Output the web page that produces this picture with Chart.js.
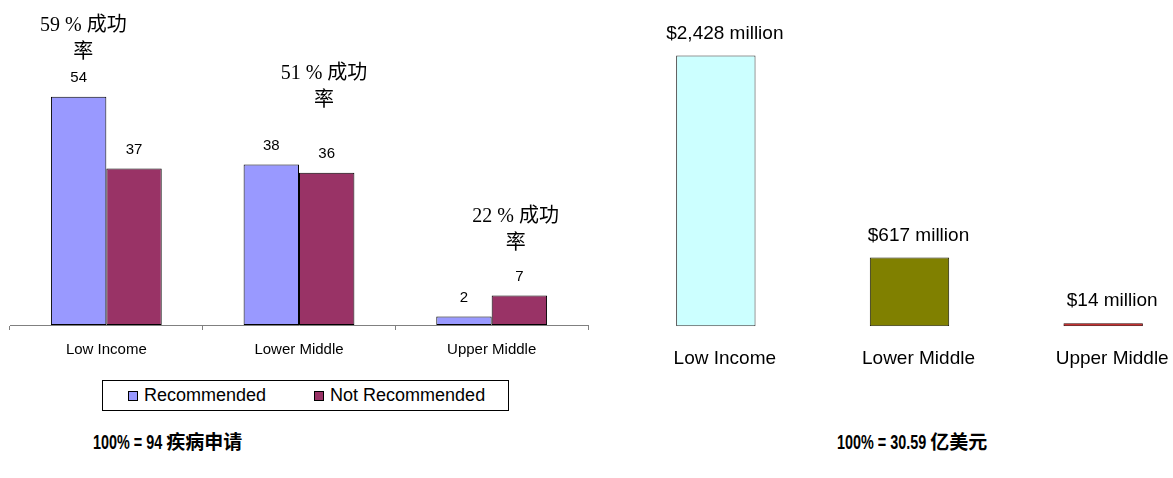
<!DOCTYPE html>
<html>
<head>
<meta charset="utf-8">
<script src="https://cdn.jsdelivr.net/npm/chart.js@4.4.1/dist/chart.umd.min.js"></script>
<style>
  html, body { margin: 0; padding: 0; background: #fff; width: 1173px; height: 478px; overflow: hidden; }
  body { position: relative; }
  #leftWrap { position: absolute; left: 0; top: 0; width: 610px; height: 370px; }
  #rightWrap { position: absolute; left: 600px; top: 0; width: 620px; height: 391px; }
  #legendBox {
    position: absolute; left: 102px; top: 380px; width: 405px; height: 29px;
    border: 1px solid #000; display: flex; align-items: center; box-sizing: content-box;
    font: 18px "Liberation Sans", Arial, sans-serif; color: #000;
  }
  #legendBox .item { display: flex; align-items: center; }
  #legendBox .item:first-child { margin-left: 25px; }
  #legendBox .item + .item { margin-left: 48px; }
  #legendBox .swatch { width: 8px; height: 8px; border: 1px solid #000; margin-right: 6px; }
  .caption {
    position: absolute; top: 427px; color: #000; white-space: nowrap;
    font: bold 20px "Liberation Sans", "Noto Sans CJK SC", sans-serif;
  }
  .caption .num { display: inline-block; transform: scaleX(0.72); transform-origin: 0 50%; white-space: pre; }
  .caption .cjk { display: inline-block; font-size: 19px; }
</style>
</head>
<body>
<div id="leftWrap"><canvas id="applications"></canvas></div>
<div id="rightWrap"><canvas id="funding"></canvas></div>
<div id="legendBox"></div>
<div class="caption" id="leftCaption" style="left:93px"></div>
<div class="caption" id="rightCaption" style="left:837px"></div>

<script>
// Disease applications by income group, and approved funding per group
const incomeGroups = ['Low Income', 'Lower Middle', 'Upper Middle'];
const recommended = [54, 38, 2];
const notRecommended = [37, 36, 7];
const fundingMillions = [2428, 617, 14];

const SANS = '"Liberation Sans", Arial, sans-serif';
const SERIF_CJK = '"Liberation Serif", "Noto Sans CJK SC", serif';

Chart.defaults.animation = false;
Chart.defaults.font.family = SANS;
Chart.defaults.color = '#000';

// value text above every bar
function valueLabels(font, gap, dx, format) {
  return {
    id: 'valueLabels',
    afterDatasetsDraw(chart) {
      const ctx = chart.ctx;
      ctx.save();
      ctx.font = font;
      ctx.fillStyle = '#000';
      ctx.textAlign = 'center';
      ctx.textBaseline = 'middle';
      chart.data.datasets.forEach((ds, di) => {
        chart.getDatasetMeta(di).data.forEach((bar, i) => {
          ctx.fillText(format(ds.data[i]), bar.x + dx, bar.y - gap);
        });
      });
      ctx.restore();
    }
  };
}

// success rate note over each group (recommended / all applications)
const rateNotes = {
  id: 'rateNotes',
  afterDatasetsDraw(chart) {
    const ctx = chart.ctx;
    const x = chart.scales.x;
    const shift = [-23, 25, 24];
    const top = [26, 74, 217];
    ctx.save();
    ctx.font = '20px ' + SERIF_CJK;
    ctx.fillStyle = '#000';
    ctx.textAlign = 'center';
    ctx.textBaseline = 'middle';
    incomeGroups.forEach((g, i) => {
      const rate = Math.round(recommended[i] / (recommended[i] + notRecommended[i]) * 100);
      const cx = x.getPixelForValue(i) + shift[i];
      ctx.fillText(rate + ' % 成功', cx, top[i]);
      ctx.fillText('率', cx, top[i] + 27);
    });
    ctx.restore();
  }
};

const applicationsChart = new Chart(document.getElementById('applications'), {
  type: 'bar',
  data: {
    labels: incomeGroups,
    datasets: [
      {
        label: 'Recommended',
        data: recommended,
        backgroundColor: '#9999FF',
        borderColor: '#000',
        borderWidth: 1,
        borderSkipped: false
      },
      {
        label: 'Not Recommended',
        data: notRecommended,
        backgroundColor: '#993366',
        borderColor: '#000',
        borderWidth: 1,
        borderSkipped: false
      }
    ]
  },
  options: {
    responsive: true,
    maintainAspectRatio: false,
    layout: { padding: { left: 10, right: 22, top: 8, bottom: 0 } },
    datasets: { bar: { categoryPercentage: 0.575, barPercentage: 1 } },
    plugins: {
      tooltip: { enabled: false },
      legend: { display: false }
    },
    scales: {
      x: {
        grid: { display: true, drawOnChartArea: false, drawTicks: true, tickLength: 5, color: '#808080', offset: true },
        border: { display: true, color: '#808080' },
        ticks: { font: { size: 15 }, padding: 11 }
      },
      y: { display: false, min: 0, max: 75 }
    }
  },
  plugins: [valueLabels('15px ' + SANS, 19, 0, v => String(v)), rateNotes]
});

// framed legend under the left chart, built from the chart's own legend items
const legendBox = document.getElementById('legendBox');
Chart.defaults.plugins.legend.labels.generateLabels(applicationsChart).forEach(item => {
  const el = document.createElement('span');
  el.className = 'item';
  const sw = document.createElement('span');
  sw.className = 'swatch';
  sw.style.background = item.fillStyle;
  const tx = document.createElement('span');
  tx.textContent = item.text;
  el.appendChild(sw);
  el.appendChild(tx);
  legendBox.appendChild(el);
});

new Chart(document.getElementById('funding'), {
  type: 'bar',
  data: {
    labels: incomeGroups,
    datasets: [{
      label: 'Funding',
      data: fundingMillions,
      backgroundColor: ['#CCFFFF', '#808000', '#C00000'],
      borderColor: ['#333333', '#1a1a00', '#300000'],
      borderWidth: 1,
      borderSkipped: false,
      minBarLength: 3
    }]
  },
  options: {
    responsive: true,
    maintainAspectRatio: false,
    layout: { padding: { left: 19, right: 20, top: 30, bottom: 0 } },
    datasets: { bar: { categoryPercentage: 1, barPercentage: 0.41 } },
    plugins: { legend: { display: false }, tooltip: { enabled: false } },
    scales: {
      x: {
        grid: { display: false, drawTicks: false },
        border: { display: false },
        ticks: { font: { size: 19 }, padding: 21, labelOffset: 9, maxRotation: 0 }
      },
      y: { display: false, min: 0, max: 2657 }
    }
  },
  plugins: [valueLabels('19px ' + SANS, 22, 9, v => '$' + v.toLocaleString('en-US') + ' million')]
});

// totals under each chart; the figures are set in a condensed face
function setCaption(id, figure, words) {
  const box = document.getElementById(id);
  const num = document.createElement('span');
  num.className = 'num';
  num.textContent = figure;
  const cjk = document.createElement('span');
  cjk.className = 'cjk';
  cjk.textContent = words;
  box.appendChild(num);
  box.appendChild(cjk);
  num.style.marginRight = (-num.getBoundingClientRect().width / 0.72 * 0.28) + 'px';
}
const totalApplications = recommended.reduce((a, b) => a + b, 0);
const totalFunding = fundingMillions.reduce((a, b) => a + b, 0);
setCaption('leftCaption', '100% = ' + totalApplications + ' ', '疾病申请');
setCaption('rightCaption', '100% = ' + (totalFunding / 100).toFixed(2) + ' ', '亿美元');
</script>
</body>
</html>
